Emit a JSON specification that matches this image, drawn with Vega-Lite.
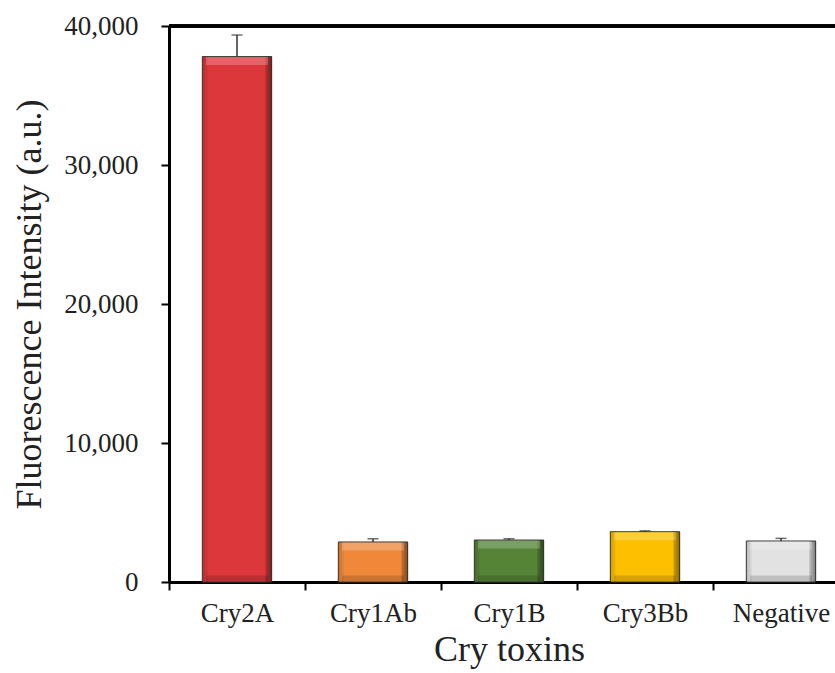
{
  "$schema": "https://vega.github.io/schema/vega-lite/v6.json",
  "width": 666,
  "height": 556,
  "autosize": "none",
  "padding": {"left": 169, "top": 26, "right": 0, "bottom": 91},
  "background": "white",
  "config": {"view": {"stroke": null}, "font": "Liberation Serif"},
  "data": {
    "values": [
      {"toxin": "Cry2A", "value": 37800, "err_top": 39350},
      {"toxin": "Cry1Ab", "value": 2880, "err_top": 3110},
      {"toxin": "Cry1B", "value": 3020, "err_top": 3110},
      {"toxin": "Cry3Bb", "value": 3620, "err_top": 3680},
      {"toxin": "Negative", "value": 2950, "err_top": 3140}
    ]
  },
  "encoding": {
    "x": {
      "field": "toxin",
      "type": "nominal",
      "sort": null,
      "scale": {"range": [0, 680], "paddingInner": 0, "paddingOuter": 0},
      "axis": {
        "title": "Cry toxins",
        "titleFont": "Liberation Serif",
        "titleFontSize": 36,
        "titleFontWeight": "normal",
        "titleColor": "#222",
        "titlePadding": 6,
        "labelFont": "Liberation Serif",
        "labelFontSize": 27,
        "labelColor": "#222",
        "labelAngle": 0,
        "labelPadding": 10,
        "tickBand": "extent",
        "tickSize": 8,
        "tickWidth": 2,
        "tickColor": "black",
        "domainColor": "black",
        "domainWidth": 3
      }
    },
    "y": {
      "field": "value",
      "type": "quantitative",
      "scale": {"domain": [0, 40000], "nice": false},
      "axis": {
        "title": "Fluorescence Intensity (a.u.)",
        "titleFont": "Liberation Serif",
        "titleFontSize": 36,
        "titleFontWeight": "normal",
        "titleColor": "#222",
        "titlePadding": 15,
        "labelFont": "Liberation Serif",
        "labelFontSize": 27,
        "labelColor": "#222",
        "labelPadding": 23,
        "format": ",.0f",
        "values": [0, 10000, 20000, 30000, 40000],
        "grid": false,
        "tickSize": 8,
        "tickWidth": 2,
        "tickColor": "black",
        "domainColor": "black",
        "domainWidth": 3
      }
    }
  },
  "layer": [
    {
      "mark": {"type": "bar", "width": {"band": 0.51}, "stroke": "#3a3a3a", "strokeWidth": 1},
      "encoding": {
        "color": {
          "field": "toxin",
          "type": "nominal",
          "legend": null,
          "scale": {
            "domain": ["Cry2A", "Cry1Ab", "Cry1B", "Cry3Bb", "Negative"],
            "range": ["#dc383b", "#f0883a", "#558436", "#fcc000", "#e2e2e2"]
          }
        }
      }
    },
    {
      "mark": {
        "type": "bar",
        "width": {"band": 0.51},
        "fill": {
          "gradient": "linear",
          "x1": 0, "y1": 0, "x2": 1, "y2": 0,
          "stops": [
            {"offset": 0, "color": "rgba(0,0,0,0.18)"},
            {"offset": 0.07, "color": "rgba(0,0,0,0.05)"},
            {"offset": 0.09, "color": "rgba(0,0,0,0)"},
            {"offset": 0.9, "color": "rgba(0,0,0,0)"},
            {"offset": 0.92, "color": "rgba(0,0,0,0.2)"},
            {"offset": 1, "color": "rgba(0,0,0,0.45)"}
          ]
        },
        "stroke": null
      },
      "encoding": {}
    },
    {
      "mark": {"type": "tick", "thickness": 8, "size": 62, "yOffset": 4.5, "color": "white", "opacity": 0.22},
      "encoding": {}
    },
    {
      "mark": {"type": "tick", "thickness": 6, "size": 62, "yOffset": -3.5, "color": "black", "opacity": 0.15},
      "encoding": {"y": {"datum": 0, "type": "quantitative"}}
    },
    {
      "mark": {"type": "rule", "strokeWidth": 1.5, "color": "#333"},
      "encoding": {"y2": {"field": "err_top"}}
    },
    {
      "mark": {"type": "tick", "thickness": 1.5, "size": 11, "color": "#333"},
      "encoding": {"y": {"field": "err_top", "type": "quantitative"}}
    },
    {
      "mark": {"type": "rule", "strokeWidth": 3, "color": "black"},
      "encoding": {"x": null, "y": {"datum": 40000, "type": "quantitative"}}
    }
  ]
}
